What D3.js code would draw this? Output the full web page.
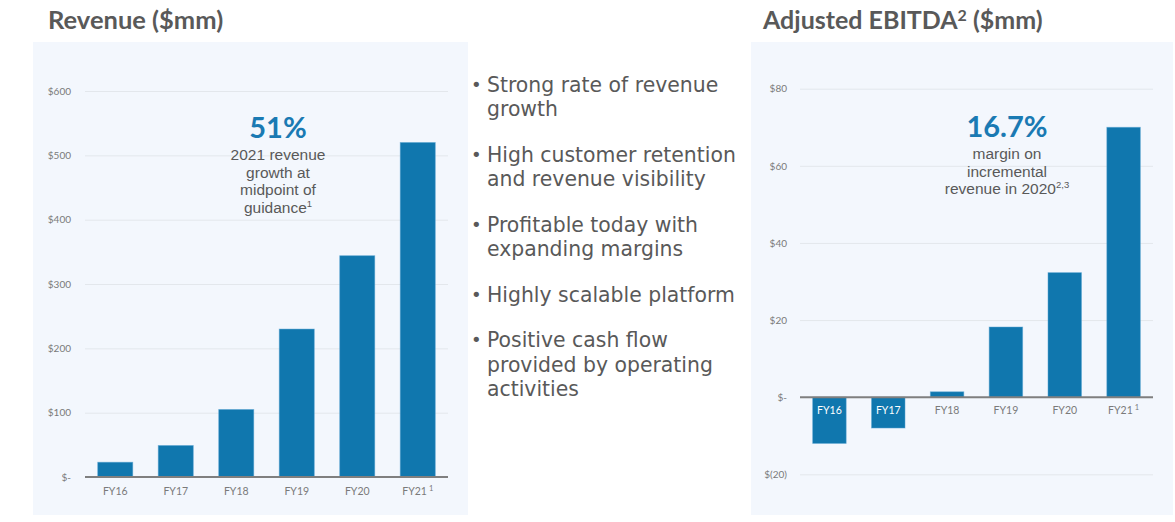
<!DOCTYPE html>
<html>
<head>
<meta charset="utf-8">
<script src="https://cdn.jsdelivr.net/npm/d3@7"></script>
<style>
  html, body { margin: 0; padding: 0; background: #ffffff; }
  svg { display: block; }
  text { font-family: Lato, "Open Sans", sans-serif; }
</style>
</head>
<body>
<svg id="chart" width="1175" height="522"></svg>
<script>
// ---- data ----
const categories = ["FY16", "FY17", "FY18", "FY19", "FY20", "FY21"];
const categoryNotes = ["", "", "", "", "", "1"];
const revenue = [23, 49, 105, 230, 344, 520];
const ebitda = [-12, -8, 1.4, 18.2, 32.3, 70];
const revenueTicks = [0, 100, 200, 300, 400, 500, 600];
const ebitdaTicks = [-20, 0, 20, 40, 60, 80];
const revenueTitle = "Revenue ($mm)";
const ebitdaTitle = ["Adjusted EBITDA", "2", " ($mm)"];
const revenueCallout = "51%";
const revenueCalloutLines = [["2021 revenue", ""], ["growth at", ""], ["midpoint of", ""], ["guidance", "1"]];
const ebitdaCallout = "16.7%";
const ebitdaCalloutLines = [["margin on", ""], ["incremental", ""], ["revenue in 2020", "2,3"]];
const bullets = [
  ["Strong rate of revenue", "growth"],
  ["High customer retention", "and revenue visibility"],
  ["Profitable today with", "expanding margins"],
  ["Highly scalable platform"],
  ["Positive cash flow", "provided by operating", "activities"]
];

// ---- styles ----
const BAR = "#1077ae";
const BG = "#f3f7fd";
const GRID = "#e3e7ec";
const AXIS = "#7f7f7f";
const TXT = "#595959";
const TICK = "#7a7a7a";
const ACCENT = "#1a7ab3";

const svg = d3.select("#chart");

function tickFmt(d) {
  if (d === 0) return "$-";
  if (d < 0) return "$(" + Math.abs(d) + ")";
  return "$" + d;
}

function drawPanel(cfg) {
  const g = svg.append("g");
  g.append("rect").attr("x", cfg.bg[0]).attr("y", cfg.bg[1])
    .attr("width", cfg.bg[2]).attr("height", cfg.bg[3]).attr("fill", BG);

  const x = d3.scaleBand().domain(categories)
    .range([cfg.x0, cfg.x1]).paddingInner(cfg.pad).paddingOuter(cfg.pad / 2);
  const y = d3.scaleLinear().domain(cfg.domain).range([cfg.yb, cfg.yt]);

  const grid = g.append("g").attr("transform", `translate(${cfg.x0},0)`)
    .call(d3.axisLeft(y).tickValues(cfg.ticks).tickSize(-(cfg.x1 - cfg.x0)).tickFormat(""));
  grid.select(".domain").remove();
  grid.selectAll(".tick line").attr("stroke", GRID).attr("stroke-width", 1);

  const yAx = g.append("g").attr("transform", `translate(${cfg.labelX},0)`)
    .call(d3.axisLeft(y).tickValues(cfg.ticks).tickSize(0).tickPadding(0).tickFormat(tickFmt));
  yAx.select(".domain").remove();
  yAx.selectAll(".tick text").attr("fill", TICK).style("font-size", "10px")
    .style("font-family", "Lato, sans-serif");

  g.selectAll("rect.bar").data(cfg.values).join("rect")
    .attr("class", "bar")
    .attr("x", (d, i) => x(categories[i]))
    .attr("width", x.bandwidth())
    .attr("y", d => y(Math.max(0, d)))
    .attr("height", d => Math.abs(y(d) - y(0)))
    .attr("fill", BAR)
    .attr("stroke", "#5fa6d3").attr("stroke-width", 0.8).attr("stroke-opacity", 0.6);

  g.append("line").attr("x1", cfg.x0).attr("x2", cfg.x1)
    .attr("y1", y(0)).attr("y2", y(0)).attr("stroke", AXIS).attr("stroke-width", 2);

  const xAx = g.append("g").attr("transform", `translate(0,${cfg.xLabelY})`)
    .call(d3.axisBottom(x).tickSize(0).tickPadding(0));
  xAx.select(".domain").remove();
  xAx.selectAll(".tick text")
    .style("font-size", "10.5px").style("font-family", "Lato, sans-serif")
    .attr("dy", "0.35em")
    .attr("fill", (d, i) => (cfg.values[i] < 0 ? "#ffffff" : TICK))
    .each(function (d, i) {
      const note = categoryNotes[i];
      if (note) {
        d3.select(this).append("tspan").text(note).attr("dy", "-4").attr("dx", "2")
          .style("font-size", "7.5px");
      }
    });

  const c = g.append("g");
  c.append("text").attr("x", cfg.calloutX).attr("y", cfg.calloutY)
    .attr("text-anchor", "middle").attr("fill", ACCENT)
    .style("font-size", "29px").style("font-weight", "bold").text(cfg.callout);
  const t = c.append("text").attr("text-anchor", "middle").attr("fill", TXT)
    .style("font-family", "'Liberation Sans', Arial, sans-serif")
    .style("font-size", "15.5px");
  cfg.calloutLines.forEach((ln, i) => {
    const by = cfg.calloutY + 22 + i * 17.5;
    t.append("tspan").attr("x", cfg.calloutX).attr("y", by).text(ln[0]);
    if (ln[1]) t.append("tspan").attr("dy", "-6").style("font-size", "9.5px").text(ln[1]);
  });
}

// titles
svg.append("text").attr("x", 48).attr("y", 29).attr("fill", TXT)
  .style("font-size", "25.5px").style("font-weight", "bold").text(revenueTitle);
const t2 = svg.append("text").attr("x", 763).attr("y", 29).attr("fill", TXT)
  .style("font-size", "25px").style("font-weight", "bold");
t2.append("tspan").text(ebitdaTitle[0]);
t2.append("tspan").text(ebitdaTitle[1]).attr("dy", "-8").style("font-size", "16px");
t2.append("tspan").text(ebitdaTitle[2]).attr("dy", "8");

drawPanel({
  bg: [33, 42, 435, 473], x0: 85, x1: 448, pad: 0.42,
  domain: [0, 600], yb: 477, yt: 91, ticks: revenueTicks, labelX: 71,
  values: revenue, xLabelY: 491,
  callout: revenueCallout, calloutLines: revenueCalloutLines, calloutX: 278, calloutY: 138
});

drawPanel({
  bg: [751, 42, 422, 473], x0: 800, x1: 1153, pad: 0.43,
  domain: [-20, 80], yb: 474.3, yt: 88.7, ticks: ebitdaTicks, labelX: 787,
  values: ebitda, xLabelY: 410.5,
  callout: ebitdaCallout, calloutLines: ebitdaCalloutLines, calloutX: 1007, calloutY: 137
});

// bullets
const bg = svg.append("g");
let yPos = 91.7;
const LINE = 24.5, GAP = 21;
bullets.forEach(lines => {
  bg.append("text").attr("x", 471).attr("y", yPos - 1).attr("fill", TXT)
    .style("font-family", "'DejaVu Sans', sans-serif")
    .style("font-size", "18px").text("•");
  const t = bg.append("text").attr("fill", TXT)
    .style("font-family", "'DejaVu Sans', sans-serif").style("font-size", "20.4px");
  lines.forEach((ln, j) => {
    t.append("tspan").attr("x", 487).attr("y", yPos + j * LINE).text(ln);
  });
  yPos += lines.length * LINE + GAP;
});
</script>
</body>
</html>
